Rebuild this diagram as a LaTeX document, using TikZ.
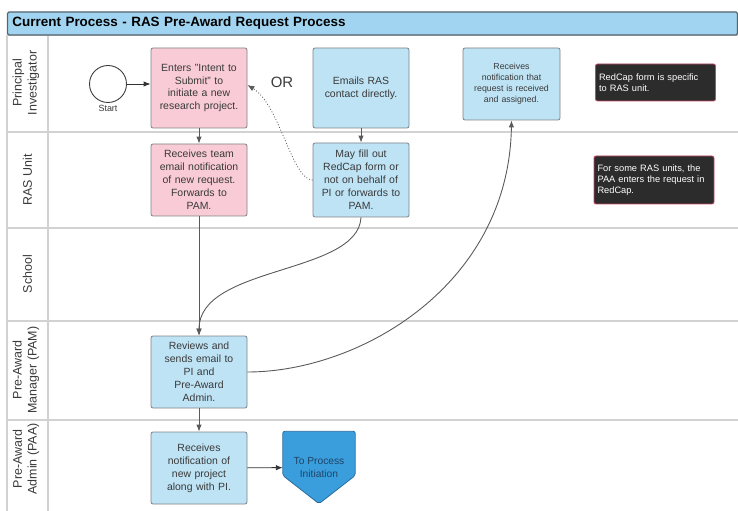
\documentclass[tikz,border=0pt]{standalone}
\usepackage{fontspec}
\setmainfont{Liberation Sans}
\usetikzlibrary{arrows.meta,calc,positioning,backgrounds}
\definecolor{pinkfill}{HTML}{F8CBD6}
\definecolor{bluefill}{HTML}{BEE3F5}
\definecolor{titlefill}{HTML}{A0D4F1}
\definecolor{titleline}{HTML}{56646E}
\definecolor{boxline}{HTML}{7E8286}
\definecolor{boxtext}{HTML}{3A3A3A}
\definecolor{notefill}{HTML}{2C2C2C}
\definecolor{noteline}{HTML}{C24A68}
\definecolor{offfill}{HTML}{3A9EDD}
\definecolor{offline}{HTML}{2B6C9C}
\definecolor{offtext}{HTML}{1E4568}
\definecolor{laneline}{HTML}{D2D2D2}
\definecolor{flowline}{HTML}{5A5A5A}
\tikzset{procbox/.style={
    draw=boxline, line width=0.8bp,
    rounded corners=2bp,
    minimum width=96bp, minimum height=#1,
    text width=88bp, align=center,
    inner sep=2bp, text=boxtext,
    font=\fontsize{10.5}{13}\selectfont
  },
  procbox/.default=72bp,
  pinkbox/.style={procbox=#1, fill=pinkfill},
  pinkbox/.default=72bp,
  bluebox/.style={procbox=#1, fill=bluefill},
  bluebox/.default=72bp,
  notebox/.style={
    draw=noteline, line width=0.8bp, fill=notefill,
    rounded corners=2bp,
    minimum width=120bp, minimum height=#1,
    text width=113bp, align=left,
    inner xsep=3.5bp, inner ysep=2bp, text=white,
    font=\fontsize{9.3}{11.2}\selectfont
  },
  notebox/.default=37bp,
  lanelabel/.style={rotate=90, align=center, text=boxtext,
    font=\fontsize{12.5}{15}\selectfont},
  laneline/.style={draw=laneline, line width=1.1bp},
  flow/.style={draw=flowline, line width=0.9bp,
    -{Latex[length=7bp,width=5.5bp]}},
  dotflow/.style={flow, dotted, line width=0.8bp}
}
\begin{document}
\begin{tikzpicture}[x=1bp,y=-1bp]
    \useasboundingbox (0,0) rectangle (738,511);
    % swimlanes
    \foreach \yy in {35,132,228,321,420}
        \draw[laneline] (7,\yy) -- (738,\yy);
    \draw[laneline] (7,35) -- (7,511) (48,35) -- (48,511);
    \node[draw=titleline, line width=1.2bp, fill=titlefill, rounded corners=1.5bp,
          minimum width=730bp, minimum height=23bp, text width=720bp, align=left,
          inner sep=5bp, font=\fontsize{13.5}{16}\selectfont\bfseries]
          (title) at (372.5,23.5) {Current Process - RAS Pre-Award Request Process};
    % lane labels
    \node[lanelabel] (lpi) at (26,83) {Principal\\Investigator};
    \node[lanelabel] (lras) at (27.5,180) {RAS Unit};
    \node[lanelabel] (lschool) at (27.5,274) {School};
    \node[lanelabel] (lpam) at (26,370) {Pre-Award\\Manager (PAM)};
    \node[lanelabel] (lpaa) at (26,459) {Pre-Award\\Admin (PAA)};
    % steps
    \node[draw=black!75, line width=0.9bp, fill=white, circle, minimum size=37bp]
          (start) at (108,84) {};
    \node[text=boxtext, font=\fontsize{9}{11}\selectfont] (startlbl) at (108,108) {Start};
    \node[pinkbox=80bp] (enter) at (199,88) {Enters "Intent to\\Submit" to\\initiate a new\\research project.};
    \node[text=boxtext, font=\fontsize{15}{18}\selectfont] (or) at (282,82) {OR};
    \node[bluebox=80bp] (email) at (361,88) {Emails RAS\\contact directly.};
    \node[bluebox=72bp, minimum width=97bp, font=\fontsize{8.8}{11}\selectfont]
          (recv) at (511.5,84) {Receives\\notification that\\request is received\\and assigned.};
    \node[notebox] (note1) at (655.5,82.5) {RedCap form is specific\\to RAS unit.};
    \node[pinkbox=72bp] (team) at (199,180) {Receives team\\email notification\\of new request.\\Forwards to\\PAM.};
    \node[bluebox=74bp] (redcap) at (361,180) {May fill out\\RedCap form or\\not on behalf of\\PI or forwards to\\PAM.};
    \node[notebox=48bp] (note2) at (654,180) {For some RAS units, the\\PAA enters the request in\\RedCap.};
    \node[bluebox=72bp] (review) at (199,372) {Reviews and\\sends email to\\PI and\\Pre-Award\\Admin.};
    \node[bluebox=72bp] (notify) at (199,468) {Receives\\notification of\\new project\\along with PI.};
    \node[minimum width=72bp, minimum height=72bp, align=center, text=offtext,
          font=\fontsize{10.3}{13}\selectfont] (init) at (319,467.5) {To Process\\Initiation};
    \begin{pgfonlayer}{background}
        \draw[draw=offline, fill=offfill, line width=0.8bp, rounded corners=2bp]
            (init.north west) -- (init.north east) -- ($(init.east)+(0,8)$)
            -- (init.south) -- ($(init.west)+(0,8)$) -- cycle;
    \end{pgfonlayer}
    % connectors
    \draw[flow, draw=black!80] (start.east) -- (start.east -| enter.west);
    \draw[flow] (enter) -- (team);
    \draw[flow] (email) -- (redcap);
    \draw[flow] (team) -- (review);
    \draw[flow] (redcap.south) .. controls (358,275) and (199,265) .. (review.north);
    \draw[flow] (review.east) .. controls (360,372) and (509,285) .. (recv.south);
    \draw[flow] (review) -- (notify);
    \draw[flow, draw=black!80] (notify) -- (init);
    \draw[dotflow] (redcap.west) .. controls (292,180) and (280,105) .. ([yshift=3bp]enter.east);
\end{tikzpicture}
\end{document}
